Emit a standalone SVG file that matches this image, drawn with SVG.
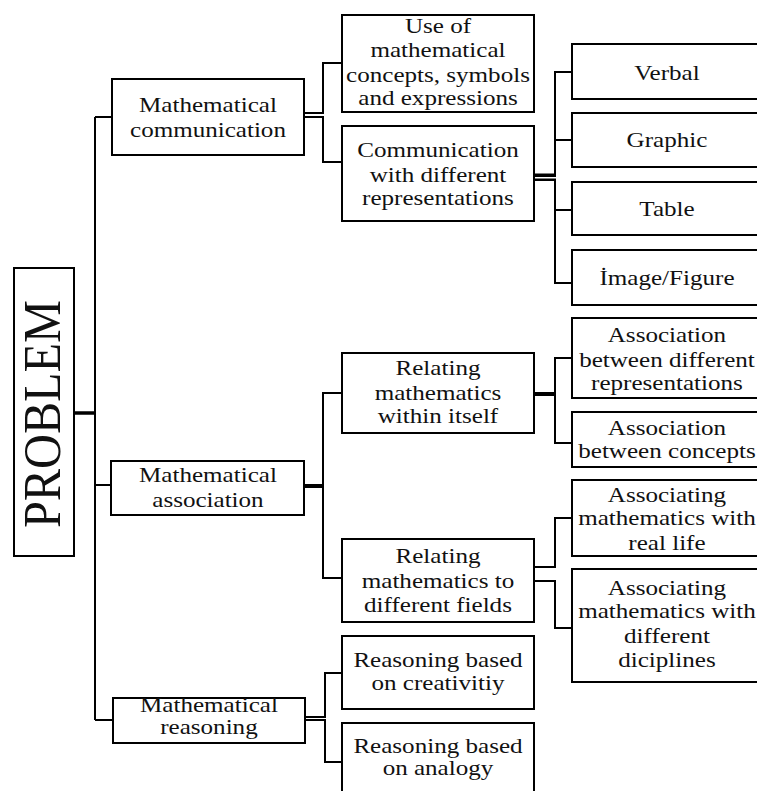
<svg xmlns="http://www.w3.org/2000/svg" width="757" height="791" viewBox="0 0 757 791">
<style>
.box{fill:#fff;stroke:#000;stroke-width:2}
.c{fill:none;stroke:#000;stroke-width:2}
.ck{fill:none;stroke:#000;stroke-width:3.5}
.t{font-family:"Liberation Serif","Times New Roman",serif;font-size:22px;text-anchor:middle;fill:#111;transform-box:fill-box;transform-origin:center;transform:scaleX(1.14)}
.big{font-family:"Liberation Serif","Times New Roman",serif;font-size:53px;text-anchor:middle;fill:#111}
</style>
<rect width="757" height="791" fill="#fff"/>
<g id="connectors">
<path class="ck" d="M74,413 H95"/>
<path class="c" d="M95,117 V720"/>
<path class="c" d="M95,117 H112"/>
<path class="c" d="M95,485 H111"/>
<path class="c" d="M95,720 H113"/>
<path class="c" d="M304,113 H323 V63 H342"/>
<path class="c" d="M304,117 H323 V162 H342"/>
<path class="c" d="M534,174.5 H555 V72 H572"/>
<path class="c" d="M534,176 H555 V140 H572"/>
<path class="c" d="M534,179.5 H555 V210 H572"/>
<path class="c" d="M534,180 H555 V283 H572"/>
<path class="c" d="M304,485 H323 V393 H342"/>
<path class="c" d="M304,487 H323 V578 H342"/>
<path class="c" d="M534,393 H555 V358 H572"/>
<path class="c" d="M534,395 H555 V443 H572"/>
<path class="c" d="M534,567 H555 V518 H572"/>
<path class="c" d="M534,581 H555 V628 H572"/>
<path class="c" d="M305,717 H325 V673 H342"/>
<path class="c" d="M305,720 H325 V762 H342"/>
</g>
<g id="problem">
<rect class="box" x="14" y="268" width="60" height="288"/>
<text class="big" transform="translate(60,414) rotate(-90)" x="0" y="0" textLength="228" lengthAdjust="spacingAndGlyphs">PROBLEM</text>
</g>
<g id="math-communication">
<rect class="box" x="112" y="79" width="192" height="76"/>
<text class="t"><tspan x="208" y="112">Mathematical</tspan><tspan x="208" y="137">communication</tspan></text>
</g>
<g id="math-association">
<rect class="box" x="111" y="461" width="193" height="54"/>
<text class="t"><tspan x="208" y="482">Mathematical</tspan><tspan x="208" y="507">association</tspan></text>
</g>
<g id="math-reasoning">
<rect class="box" x="113" y="698" width="192" height="45"/>
<text class="t"><tspan x="209" y="712">Mathematical</tspan><tspan x="209" y="734">reasoning</tspan></text>
</g>
<g id="use-of">
<rect class="box" x="342" y="15" width="192" height="97"/>
<text class="t"><tspan x="438" y="33">Use of</tspan><tspan x="438" y="57">mathematical</tspan><tspan x="438" y="82">concepts, symbols</tspan><tspan x="438" y="105">and expressions</tspan></text>
</g>
<g id="comm-representations">
<rect class="box" x="342" y="126" width="192" height="95"/>
<text class="t"><tspan x="438" y="157">Communication</tspan><tspan x="438" y="182">with different</tspan><tspan x="438" y="205">representations</tspan></text>
</g>
<g id="relating-within">
<rect class="box" x="342" y="353" width="192" height="80"/>
<text class="t"><tspan x="438" y="375">Relating</tspan><tspan x="438" y="400">mathematics</tspan><tspan x="438" y="423">within itself</tspan></text>
</g>
<g id="relating-fields">
<rect class="box" x="342" y="539" width="192" height="83"/>
<text class="t"><tspan x="438" y="563">Relating</tspan><tspan x="438" y="588">mathematics to</tspan><tspan x="438" y="612">different fields</tspan></text>
</g>
<g id="reasoning-creativity">
<rect class="box" x="342" y="636" width="192" height="73"/>
<text class="t"><tspan x="438" y="667">Reasoning based</tspan><tspan x="438" y="690">on creativitiy</tspan></text>
</g>
<g id="reasoning-analogy">
<rect class="box" x="342" y="723" width="192" height="75"/>
<text class="t"><tspan x="438" y="753">Reasoning based</tspan><tspan x="438" y="775">on analogy</tspan></text>
</g>
<g id="verbal">
<rect class="box" x="572" y="44" width="190" height="55"/>
<text class="t" x="667" y="80">Verbal</text>
</g>
<g id="graphic">
<rect class="box" x="572" y="113" width="190" height="54"/>
<text class="t" x="667" y="147">Graphic</text>
</g>
<g id="table">
<rect class="box" x="572" y="182" width="190" height="53"/>
<text class="t" x="667" y="216">Table</text>
</g>
<g id="image-figure">
<rect class="box" x="572" y="250" width="190" height="55"/>
<text class="t" x="667" y="285">İmage/Figure</text>
</g>
<g id="assoc-representations">
<rect class="box" x="572" y="318" width="190" height="80"/>
<text class="t"><tspan x="667" y="342">Association</tspan><tspan x="667" y="367">between different</tspan><tspan x="667" y="390">representations</tspan></text>
</g>
<g id="assoc-concepts">
<rect class="box" x="572" y="412" width="190" height="55"/>
<text class="t"><tspan x="667" y="435">Association</tspan><tspan x="667" y="458">between concepts</tspan></text>
</g>
<g id="real-life">
<rect class="box" x="572" y="480" width="190" height="76"/>
<text class="t"><tspan x="667" y="502">Associating</tspan><tspan x="667" y="525">mathematics with</tspan><tspan x="667" y="550">real life</tspan></text>
</g>
<g id="disciplines">
<rect class="box" x="572" y="569" width="190" height="113"/>
<text class="t"><tspan x="667" y="595">Associating</tspan><tspan x="667" y="618">mathematics with</tspan><tspan x="667" y="643">different</tspan><tspan x="667" y="667">diciplines</tspan></text>
</g>
</svg>
